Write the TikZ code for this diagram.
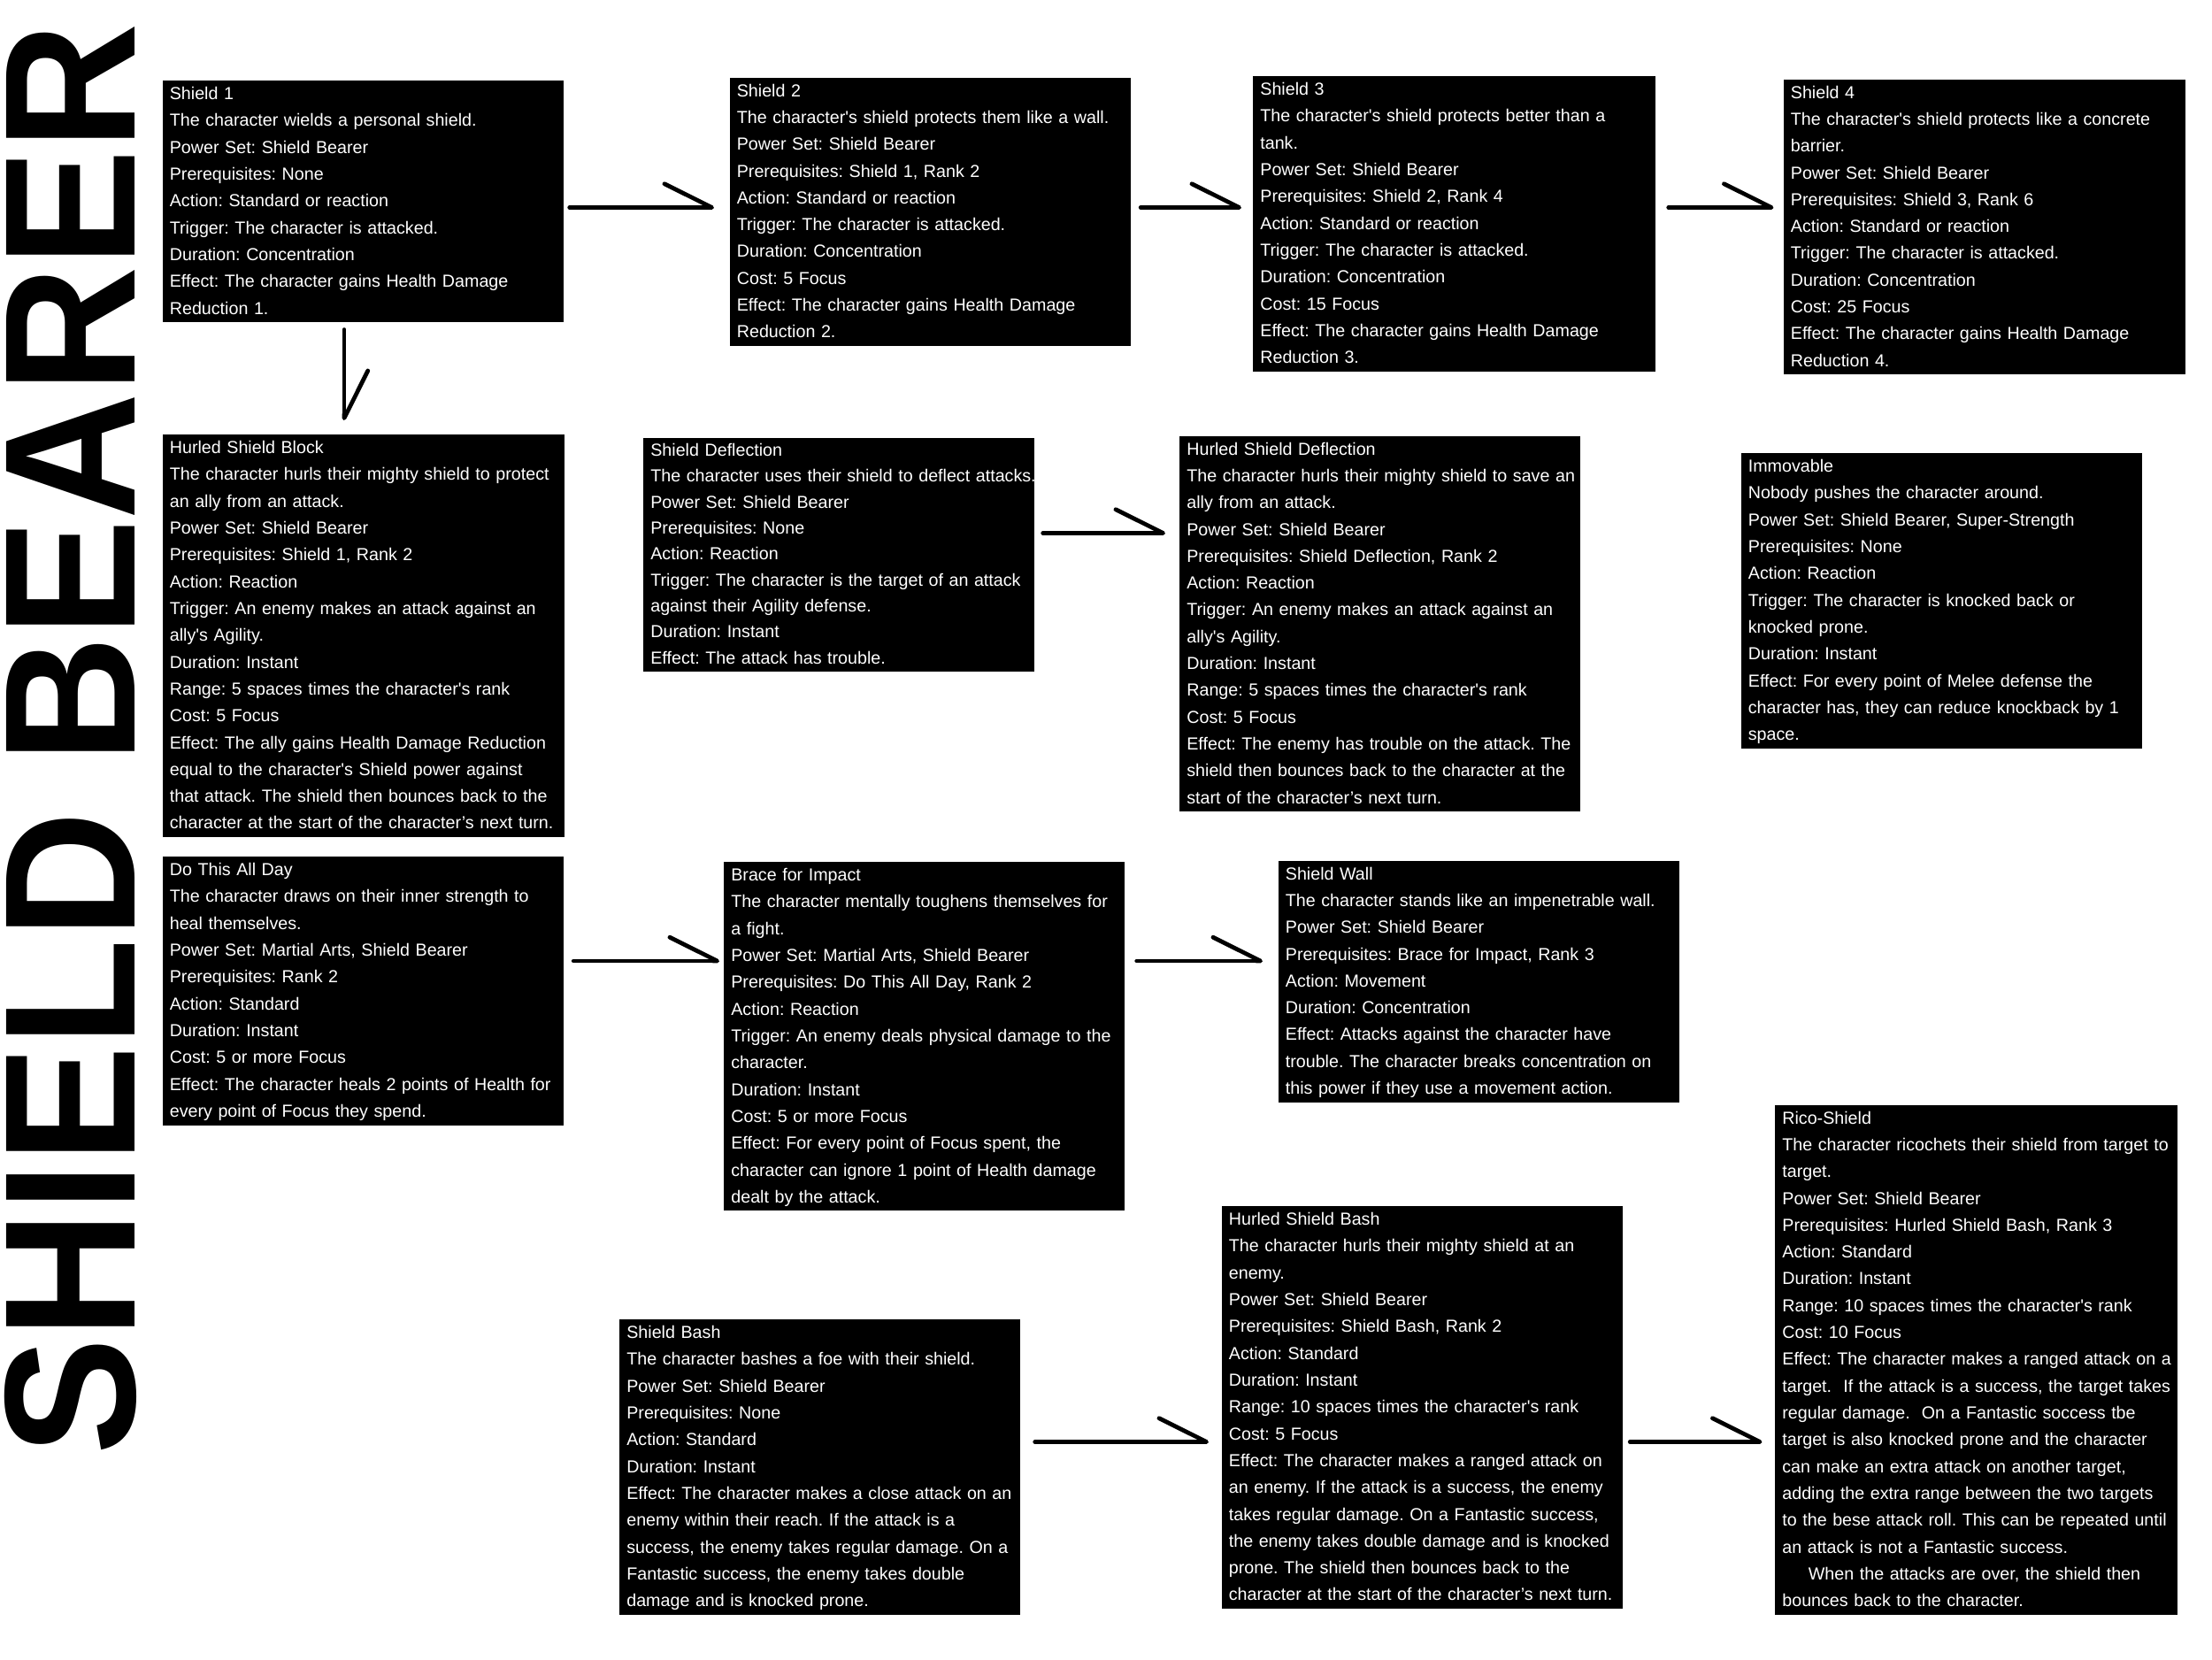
\documentclass[tikz,border=0pt]{standalone}
\usepackage{fontspec}
\setmainfont{Liberation Sans}[Ligatures=TeXOff]
\usetikzlibrary{arrows.meta}
\frenchspacing
\tikzset{
  powerbox/.style={fill=black, text=white, anchor=north west, align=left,
    inner xsep=0pt, inner ysep=0pt, font=\fontsize{11.2}{17.25}\selectfont,
    execute at begin node={\leftskip=0.16cm\relax\strut},
    execute at end node={\strut}},
  linkline/.style={line width=2.7pt, line cap=round,
    -{Straight Barb[harpoon, angle=53:1.2cm, round]}},
  sidetitle/.style={rotate=90, anchor=base west, inner sep=0pt,
    font=\bfseries\fontsize{120}{120}\selectfont},
}

\begin{document}
\begin{tikzpicture}[x=1cm,y=1cm]
\useasboundingbox (0,0) rectangle (50,-37.5);
\node[sidetitle] (title) at (3.05,-32.9) {\scalebox{0.94}[1]{SHIELD BEARER}};

\node[powerbox, text width=9.06cm] (s1) at (3.67,-1.82) {Shield 1\\
The character wields a personal shield.\\
Power Set: Shield Bearer\\
Prerequisites: None\\
Action: Standard or reaction\\
Trigger: The character is attacked.\\
Duration: Concentration\\
Effect: The character gains Health Damage\\
Reduction 1.};
\node[powerbox, text width=9.06cm] (s2) at (16.49,-1.75) {Shield 2\\
The character's shield protects them like a wall.\\
Power Set: Shield Bearer\\
Prerequisites: Shield 1, Rank 2\\
Action: Standard or reaction\\
Trigger: The character is attacked.\\
Duration: Concentration\\
Cost: 5 Focus\\
Effect: The character gains Health Damage\\
Reduction 2.};
\node[powerbox, text width=9.09cm] (s3) at (28.32,-1.72) {Shield 3\\
The character's shield protects better than a\\
tank.\\
Power Set: Shield Bearer\\
Prerequisites: Shield 2, Rank 4\\
Action: Standard or reaction\\
Trigger: The character is attacked.\\
Duration: Concentration\\
Cost: 15 Focus\\
Effect: The character gains Health Damage\\
Reduction 3.};
\node[powerbox, text width=9.09cm] (s4) at (40.31,-1.79) {Shield 4\\
The character's shield protects like a concrete\\
barrier.\\
Power Set: Shield Bearer\\
Prerequisites: Shield 3, Rank 6\\
Action: Standard or reaction\\
Trigger: The character is attacked.\\
Duration: Concentration\\
Cost: 25 Focus\\
Effect: The character gains Health Damage\\
Reduction 4.};

\node[powerbox, text width=9.09cm] (hsblock) at (3.67,-9.82) {Hurled Shield Block\\
The character hurls their mighty shield to protect\\
an ally from an attack.\\
Power Set: Shield Bearer\\
Prerequisites: Shield 1, Rank 2\\
Action: Reaction\\
Trigger: An enemy makes an attack against an\\
ally's Agility.\\
Duration: Instant\\
Range: 5 spaces times the character's rank\\
Cost: 5 Focus\\
Effect: The ally gains Health Damage Reduction\\
equal to the character's Shield power against\\
that attack. The shield then bounces back to the\\
character at the start of the character’s next turn.};
\node[powerbox, text width=8.83cm, font=\fontsize{11.2}{16.7}\selectfont] (sdefl) at (14.54,-9.89) {Shield Deflection\\
\mbox{The character uses their shield to deflect attacks.}\\
Power Set: Shield Bearer\\
Prerequisites: None\\
Action: Reaction\\
Trigger: The character is the target of an attack\\
against their Agility defense.\\
Duration: Instant\\
Effect: The attack has trouble.};
\node[powerbox, text width=9.06cm] (hsdefl) at (26.66,-9.85) {Hurled Shield Deflection\\
The character hurls their mighty shield to save an\\
ally from an attack.\\
Power Set: Shield Bearer\\
Prerequisites: Shield Deflection, Rank 2\\
Action: Reaction\\
Trigger: An enemy makes an attack against an\\
ally's Agility.\\
Duration: Instant\\
Range: 5 spaces times the character's rank\\
Cost: 5 Focus\\
Effect: The enemy has trouble on the attack. The\\
shield then bounces back to the character at the\\
start of the character’s next turn.};
\node[powerbox, text width=9.06cm] (immov) at (39.35,-10.24) {Immovable\\
Nobody pushes the character around.\\
Power Set: Shield Bearer, Super-Strength\\
Prerequisites: None\\
Action: Reaction\\
Trigger: The character is knocked back or\\
knocked prone.\\
Duration: Instant\\
Effect: For every point of Melee defense the\\
character has, they can reduce knockback by 1\\
space.};

\node[powerbox, text width=9.06cm] (dothis) at (3.67,-19.36) {Do This All Day\\
The character draws on their inner strength to\\
heal themselves.\\
Power Set: Martial Arts, Shield Bearer\\
Prerequisites: Rank 2\\
Action: Standard\\
Duration: Instant\\
Cost: 5 or more Focus\\
Effect: The character heals 2 points of Health for\\
every point of Focus they spend.};
\node[powerbox, text width=9.06cm] (brace) at (16.36,-19.48) {Brace for Impact\\
The character mentally toughens themselves for\\
a fight.\\
Power Set: Martial Arts, Shield Bearer\\
Prerequisites: Do This All Day, Rank 2\\
Action: Reaction\\
Trigger: An enemy deals physical damage to the\\
character.\\
Duration: Instant\\
Cost: 5 or more Focus\\
Effect: For every point of Focus spent, the\\
character can ignore 1 point of Health damage\\
dealt by the attack.};
\node[powerbox, text width=9.06cm] (swall) at (28.89,-19.45) {Shield Wall\\
The character stands like an impenetrable wall.\\
Power Set: Shield Bearer\\
Prerequisites: Brace for Impact, Rank 3\\
Action: Movement\\
Duration: Concentration\\
Effect: Attacks against the character have\\
trouble. The character breaks concentration on\\
this power if they use a movement action.};

\node[powerbox, text width=9.06cm] (sbash) at (14.00,-29.82) {Shield Bash\\
The character bashes a foe with their shield.\\
Power Set: Shield Bearer\\
Prerequisites: None\\
Action: Standard\\
Duration: Instant\\
Effect: The character makes a close attack on an\\
enemy within their reach. If the attack is a\\
success, the enemy takes regular damage. On a\\
Fantastic success, the enemy takes double\\
damage and is knocked prone.};
\node[powerbox, text width=9.06cm] (hsbash) at (27.61,-27.26) {Hurled Shield Bash\\
The character hurls their mighty shield at an\\
enemy.\\
Power Set: Shield Bearer\\
Prerequisites: Shield Bash, Rank 2\\
Action: Standard\\
Duration: Instant\\
Range: 10 spaces times the character's rank\\
Cost: 5 Focus\\
Effect: The character makes a ranged attack on\\
an enemy. If the attack is a success, the enemy\\
takes regular damage. On a Fantastic success,\\
the enemy takes double damage and is knocked\\
prone. The shield then bounces back to the\\
character at the start of the character’s next turn.};
\node[powerbox, text width=9.09cm] (rico) at (40.12,-24.97) {Rico-Shield\\
The character ricochets their shield from target to\\
target.\\
Power Set: Shield Bearer\\
Prerequisites: Hurled Shield Bash, Rank 3\\
Action: Standard\\
Duration: Instant\\
Range: 10 spaces times the character's rank\\
Cost: 10 Focus\\
Effect: The character makes a ranged attack on a\\
target.\ \ If the attack is a success, the target takes\\
regular damage.\ \ On a Fantastic soccess tbe\\
target is also knocked prone and the character\\
can make an extra attack on another target,\\
adding the extra range between the two targets\\
to the bese attack roll. This can be repeated until\\
an attack is not a Fantastic success.\\
\hspace*{1.5em}When the attacks are over, the shield then\\
bounces back to the character.};

\draw[linkline, shorten <=0.13cm, shorten >=0.35cm] (s1.east |- 0,-4.69) -- (s2.west |- 0,-4.69);
\draw[linkline, shorten <=0.22cm, shorten >=0.26cm] (s2.east |- 0,-4.69) -- (s3.west |- 0,-4.69);
\draw[linkline, shorten <=0.29cm, shorten >=0.22cm] (s3.east |- 0,-4.69) -- (s4.west |- 0,-4.69);
\draw[linkline, shorten <=0.16cm, shorten >=0.32cm] (s1.south -| 7.78,0) -- (hsblock.north -| 7.78,0);
\draw[linkline, shorten <=0.19cm, shorten >=0.32cm] (sdefl.east |- 0,-12.05) -- (hsdefl.west |- 0,-12.05);
\draw[linkline, shorten <=0.22cm, shorten >=0.10cm] (dothis.east |- 0,-21.72) -- (brace.west |- 0,-21.72);
\draw[linkline, shorten <=0.26cm, shorten >=0.35cm] (brace.east |- 0,-21.72) -- (swall.west |- 0,-21.72);
\draw[linkline, shorten <=0.32cm, shorten >=0.29cm] (sbash.east |- 0,-32.59) -- (hsbash.west |- 0,-32.59);
\draw[linkline, shorten <=0.16cm, shorten >=0.29cm] (hsbash.east |- 0,-32.59) -- (rico.west |- 0,-32.59);
\end{tikzpicture}
\end{document}
